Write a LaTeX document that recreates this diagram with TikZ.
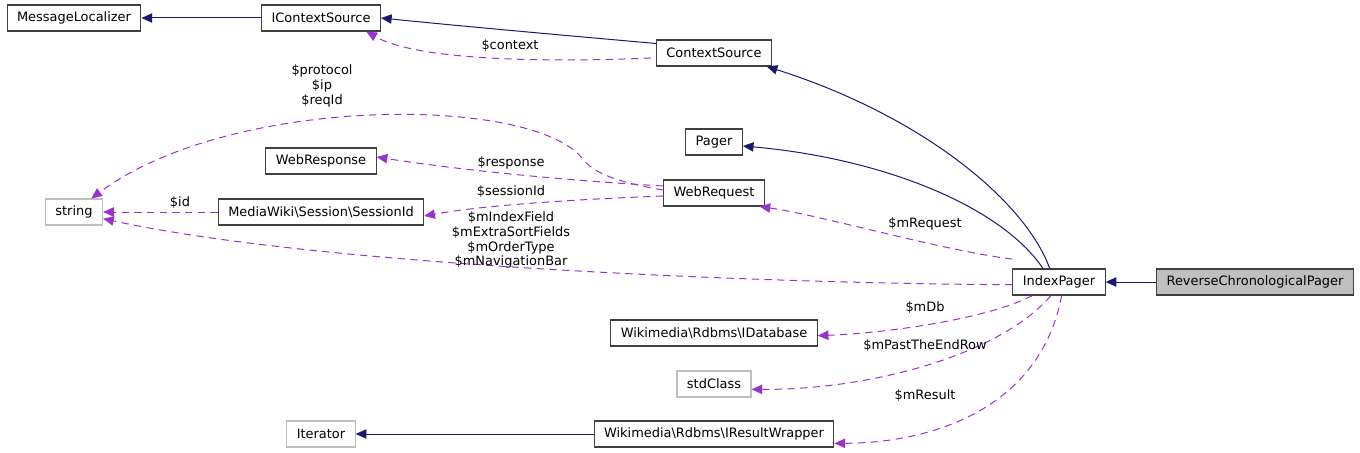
\documentclass[tikz,border=0pt]{standalone}
\usepackage{fontspec}
\setmainfont{DejaVu Sans}
\usepackage{xcolor}
\usepackage{tikz}
\usetikzlibrary{arrows.meta}

\definecolor{inheritcol}{RGB}{25,25,112}
\definecolor{membercol}{RGB}{154,50,205}
\definecolor{extcol}{RGB}{191,191,191}

\begin{document}
\begin{tikzpicture}[
        x=0.75pt, y=-0.75pt,
        font=\fontsize{9.7}{11.2}\selectfont,
        cls/.style={rectangle, draw=black!75, line width=0.8pt, fill=white, inner xsep=7.5pt, inner ysep=0pt, minimum height=19.5pt},
        extcls/.style={cls, draw=extcol},
        inherit/.style={-{Triangle[length=8pt,width=7pt]}, draw=inheritcol, line width=0.75pt},
        member/.style={-{Triangle[length=8pt,width=7pt,sep=0pt]}, draw=membercol, line width=0.75pt, dash pattern=on 5.5pt off 4pt},
        lbl/.style={align=center, inner sep=1pt}
    ]
        \useasboundingbox (0,0) rectangle (1360,453);

        % Klassen
        \node [cls] (msgloc) at (74,18) {MessageLocalizer};
        \node [cls] (icontext) at (321,18) {IContextSource};
        \node [cls] (context) at (714,53) {ContextSource};
        \node [cls] (pager) at (714,142) {Pager};
        \node [cls] (webresponse) at (321,161) {WebResponse};
        \node [cls] (webrequest) at (714,193) {WebRequest};
        \node [extcls] (string) at (74,212) {string};
        \node [cls] (sessionid) at (321,212) {MediaWiki\textbackslash Session\textbackslash SessionId};
        \node [cls] (indexpager) at (1059,282) {IndexPager};
        \node [cls, fill=extcol] (revpager) at (1255,282) {ReverseChronologicalPager};
        \node [cls] (idatabase) at (714,333) {Wikimedia\textbackslash Rdbms\textbackslash IDatabase};
        \node [extcls] (stdclass) at (714,384) {stdClass};
        \node [extcls] (iterator) at (321,434) {Iterator};
        \node [cls] (iresult) at (714,434) {Wikimedia\textbackslash Rdbms\textbackslash IResultWrapper};

        % Vererbung
        \draw [inherit] (icontext) -- (msgloc);
        \draw [inherit] (context.north west) ++(0,4) .. controls (560,35) and (460,26) .. (icontext.east);
        \draw [inherit] ([xshift=-7pt]indexpager.north) .. controls (1025,200) and (920,115) .. ([xshift=-4pt]context.south east);
        \draw [inherit] ([xshift=-12pt]indexpager.north) .. controls (1000,205) and (880,158) .. ([yshift=-3pt]pager.east);
        \draw [inherit] (revpager) -- (indexpager);
        \draw [inherit] (iresult) -- (iterator);

        % Mitglieder
        \draw [member] (context.west) ++(-5,5) .. controls (560,62) and (420,62) .. ([xshift=34pt]icontext.south);
        \node [lbl] (lcontext) at (510,46) {\$context};

        \draw [member] (webrequest.west) ++(0,-3) .. controls (615,182) and (592,172) .. (582,158) .. controls (530,95) and (230,95) .. ([xshift=13pt]string.north);
        \node [lbl] (lprotocol) at (322,86) {\$protocol\\\$ip\\\$reqId};

        \draw [member] (webrequest.west) ++(0,-7) .. controls (560,180) and (460,170) .. ([yshift=3pt]webresponse.east);
        \node [lbl] (lresponse) at (511,163) {\$response};

        \draw [member] (webrequest.west) ++(0,3) .. controls (560,200) and (480,206) .. ([yshift=-3pt]sessionid.east);
        \node [lbl] (lsession) at (511,192) {\$sessionId};

        \draw [member] (sessionid) -- (string);
        \node [lbl] (lid) at (180,203) {\$id};

        \draw [member] ([yshift=7pt]indexpager.north west) .. controls (940,250) and (820,215) .. ([xshift=-4pt]webrequest.south east);
        \node [lbl] (lrequest) at (925,224) {\$mRequest};

        \draw [member] ([yshift=-2pt]indexpager.west) .. controls (800,284) and (330,268) .. ([yshift=-5pt]string.east);
        \node [lbl] (lfields) at (511,240) {\$mIndexField\\\$mExtraSortFields\\\$mOrderType\\\$mNavigationBar};

        \draw [member] ([xshift=-20pt]indexpager.south) .. controls (990,318) and (890,333) .. ([yshift=-2pt]idatabase.east);
        \node [lbl] (ldb) at (925,308) {\$mDb};

        \draw [member] ([xshift=-6pt]indexpager.south) .. controls (1000,355) and (870,390) .. ([yshift=-4pt]stdclass.east);
        \node [lbl] (lpast) at (925,346) {\$mPastTheEndRow};

        \draw [member] ([xshift=2pt]indexpager.south) .. controls (1040,410) and (930,443) .. ([yshift=-7pt]iresult.east);
        \node [lbl] (lresult) at (925,396) {\$mResult};
    \end{tikzpicture}
\end{document}
